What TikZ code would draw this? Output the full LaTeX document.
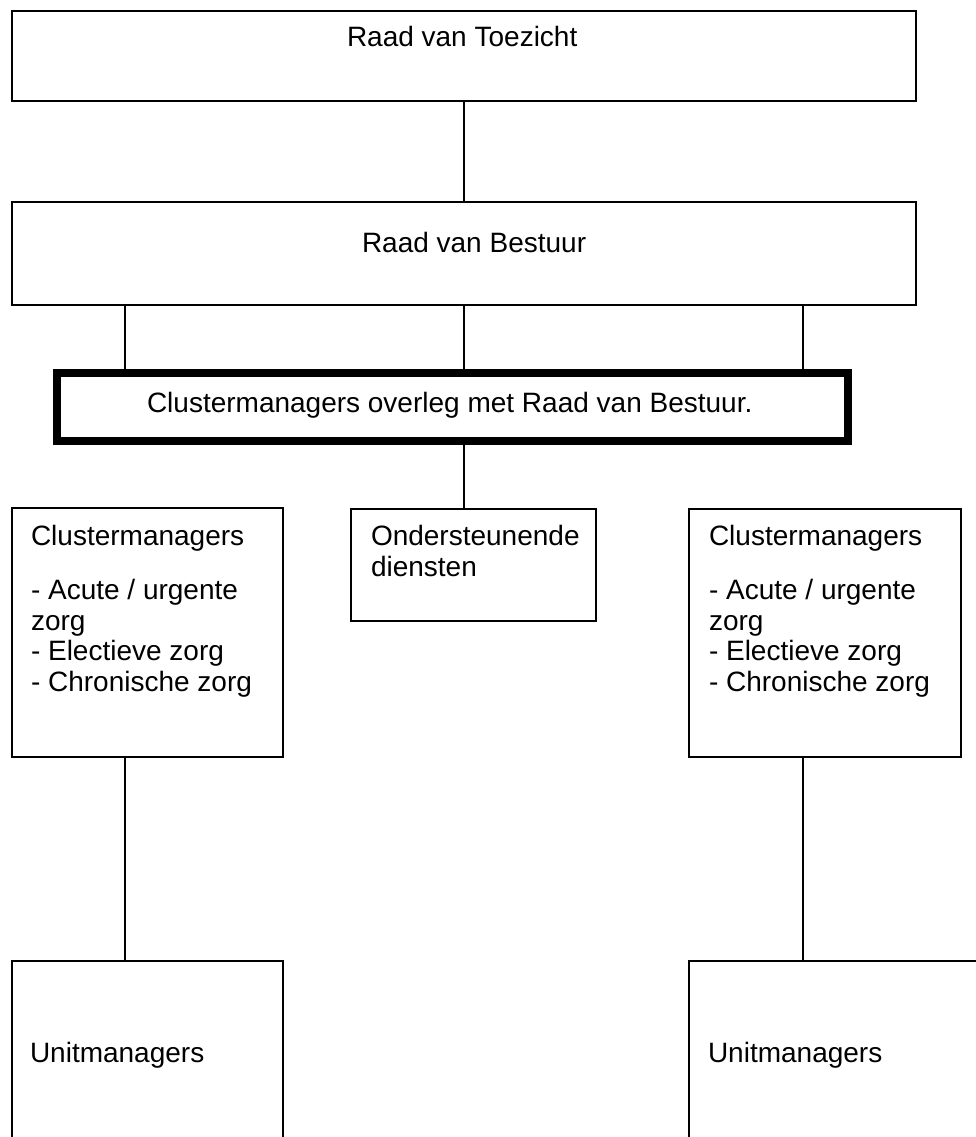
\documentclass[tikz,border=0pt]{standalone}
\usepackage{fontspec}
\setmainfont{Liberation Sans}
\begin{document}
\begin{tikzpicture}[x=1pt,y=-1pt,
  box/.style={draw=black, line width=1.3pt, rectangle, inner sep=0pt, outer sep=0pt},
  thickbox/.style={draw=black, line width=8pt, rectangle, inner sep=0pt, outer sep=0pt},
  conn/.style={draw=black, line width=1.3pt},
  txt/.style={font=\fontsize{28}{31}\selectfont, inner sep=0pt, outer sep=0pt, anchor=base west, text=black}]
\useasboundingbox (0,0) rectangle (976,1137);
\clip (0,0) rectangle (976,1137);
% helper x positions
\coordinate (xl) at (125,0);
\coordinate (xm) at (464,0);
\coordinate (xr) at (803,0);
% boxes
\node[box, minimum width=904pt, minimum height=90pt] (T) at (464,56) {};
\node[box, minimum width=904pt, minimum height=103pt] (B) at (464,253.5) {};
\node[thickbox, minimum width=791pt, minimum height=67.5pt] (O) at (452.5,406.75) {};
\node[box, minimum width=271pt, minimum height=249pt] (CL) at (147.5,632.5) {};
\node[box, minimum width=245pt, minimum height=112pt] (M) at (473.5,565) {};
\node[box, minimum width=272pt, minimum height=248pt] (CR) at (825,633) {};
\node[box, minimum width=271pt, minimum height=220pt] (UL) at (147.5,1071) {};
\node[box, minimum width=320pt, minimum height=220pt] (UR) at (849,1071) {};
% texts
\node[txt] (tT) at (347,47) {Raad van Toezicht};
\node[txt] (tB) at (362,252) {Raad van Bestuur};
\node[txt] (tO) at (147,412) {Clustermanagers overleg met Raad van Bestuur.};
\node[txt] (tL1) at (31,545) {Clustermanagers};
\node[txt] (tL2) at (31,599) {- Acute / urgente};
\node[txt] (tL3) at (31,630) {zorg};
\node[txt] (tL4) at (31,660) {- Electieve zorg};
\node[txt] (tL5) at (31,691) {- Chronische zorg};
\node[txt] (tM1) at (371,545) {Ondersteunende};
\node[txt] (tM2) at (371,576) {diensten};
\node[txt] (tR1) at (709,545) {Clustermanagers};
\node[txt] (tR2) at (709,599) {- Acute / urgente};
\node[txt] (tR3) at (709,630) {zorg};
\node[txt] (tR4) at (709,660) {- Electieve zorg};
\node[txt] (tR5) at (709,691) {- Chronische zorg};
\node[txt] (tU1) at (30,1062) {Unitmanagers};
\node[txt] (tU2) at (708,1062) {Unitmanagers};
% connectors
\draw[conn] (T.south) -- (B.north);
\draw[conn] (B.south -| xl) -- (O.north -| xl);
\draw[conn] (B.south -| xm) -- (O.north -| xm);
\draw[conn] (B.south -| xr) -- (O.north -| xr);
\draw[conn] (O.south -| xm) -- (M.north -| xm);
\draw[conn] (CL.south -| xl) -- (UL.north -| xl);
\draw[conn] (CR.south -| xr) -- (UR.north -| xr);
\end{tikzpicture}
\end{document}
